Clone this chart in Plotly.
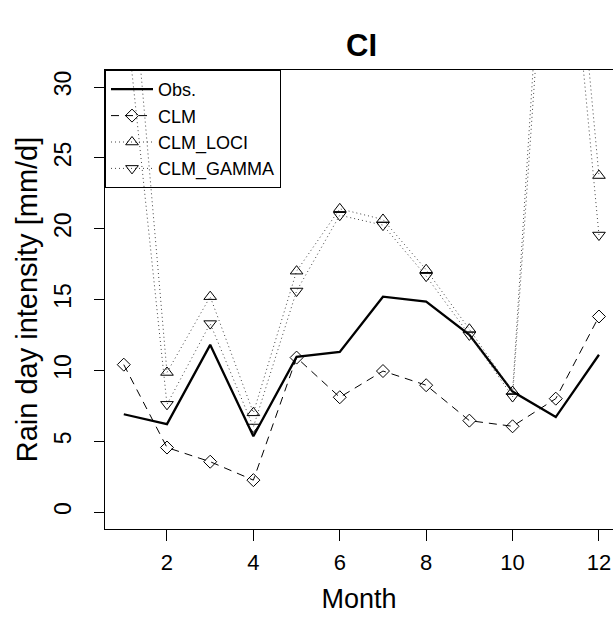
import plotly.graph_objects as go

months = list(range(1, 13))
obs = [6.9, 6.2, 11.8, 5.35, 10.95, 11.3, 15.2, 14.85, 12.5, 8.5, 6.7, 11.1]
clm = [10.4, 4.55, 3.55, 2.25, 10.9, 8.1, 9.95, 8.95, 6.45, 6.05, 8.0, 13.8]
clm_loci = [45.0, 9.85, 15.2, 7.0, 17.0, 21.4, 20.65, 17.1, 12.9, 8.5, 56.5, 23.75]
clm_gamma = [36.5, 7.6, 13.3, 6.0, 15.6, 20.95, 20.25, 16.65, 12.5, 8.15, 52.0, 19.55]

FONT = "Liberation Sans, Arial, sans-serif"

fig = go.Figure()
fig.add_trace(go.Scatter(x=months, y=obs, mode="lines", name="Obs.",
                         line=dict(color="black", width=2.3)))
fig.add_trace(go.Scatter(x=months, y=clm, mode="lines+markers", name="CLM",
                         line=dict(color="black", width=1, dash="8px,6px"),
                         marker=dict(symbol="diamond-open", size=10, color="black", line=dict(width=1))))
fig.add_trace(go.Scatter(x=months, y=clm_loci, mode="lines+markers", name="CLM_LOCI",
                         line=dict(color="#444444", width=1, dash="1px,3px"),
                         marker=dict(symbol="triangle-up-open", size=11, color="black", line=dict(width=1))))
fig.add_trace(go.Scatter(x=months, y=clm_gamma, mode="lines+markers", name="CLM_GAMMA",
                         line=dict(color="#444444", width=1, dash="1px,3px"),
                         marker=dict(symbol="triangle-down-open", size=11, color="black", line=dict(width=1))))

fig.update_layout(
    width=613, height=619,
    margin=dict(l=105, r=0, t=70, b=90, pad=0),
    paper_bgcolor="white", plot_bgcolor="white",
    font=dict(family=FONT, color="black", size=21),
    title=dict(text="<b>CI</b>", x=0.505, xanchor="center", y=1 - 45 / 619, yanchor="middle",
               xref="paper", yref="container", font=dict(size=31, family=FONT)),
    showlegend=True,
    legend=dict(x=0, y=1, xanchor="left", yanchor="top", bgcolor="rgba(0,0,0,0)",
                bordercolor="black", borderwidth=1, font=dict(size=18, family=FONT),
                tracegroupgap=0, itemwidth=42),
    xaxis=dict(range=[0.565, 12.325], tickvals=[2, 4, 6, 8, 10, 12], ticks="outside", ticklen=11,
               tickcolor="black", showline=True, linecolor="black", linewidth=1, mirror=True,
               showgrid=False, zeroline=False, tickfont=dict(size=22), ticklabelstandoff=3,
               title=dict(text="Month", font=dict(size=27), standoff=14)),
    yaxis=dict(range=[-1.2, 31.2], tickvals=[0, 5, 10, 15, 20, 25, 30], ticks="outside", ticklen=10,
               tickcolor="black", showline=True, linecolor="black", linewidth=1,
               showgrid=False, zeroline=False, tickangle=-90, tickfont=dict(size=23),
               ticklabelstandoff=14,
               title=dict(text="Rain day intensity [mm/d]", font=dict(size=29), standoff=3)),
)

fig.write_html("out.html")
